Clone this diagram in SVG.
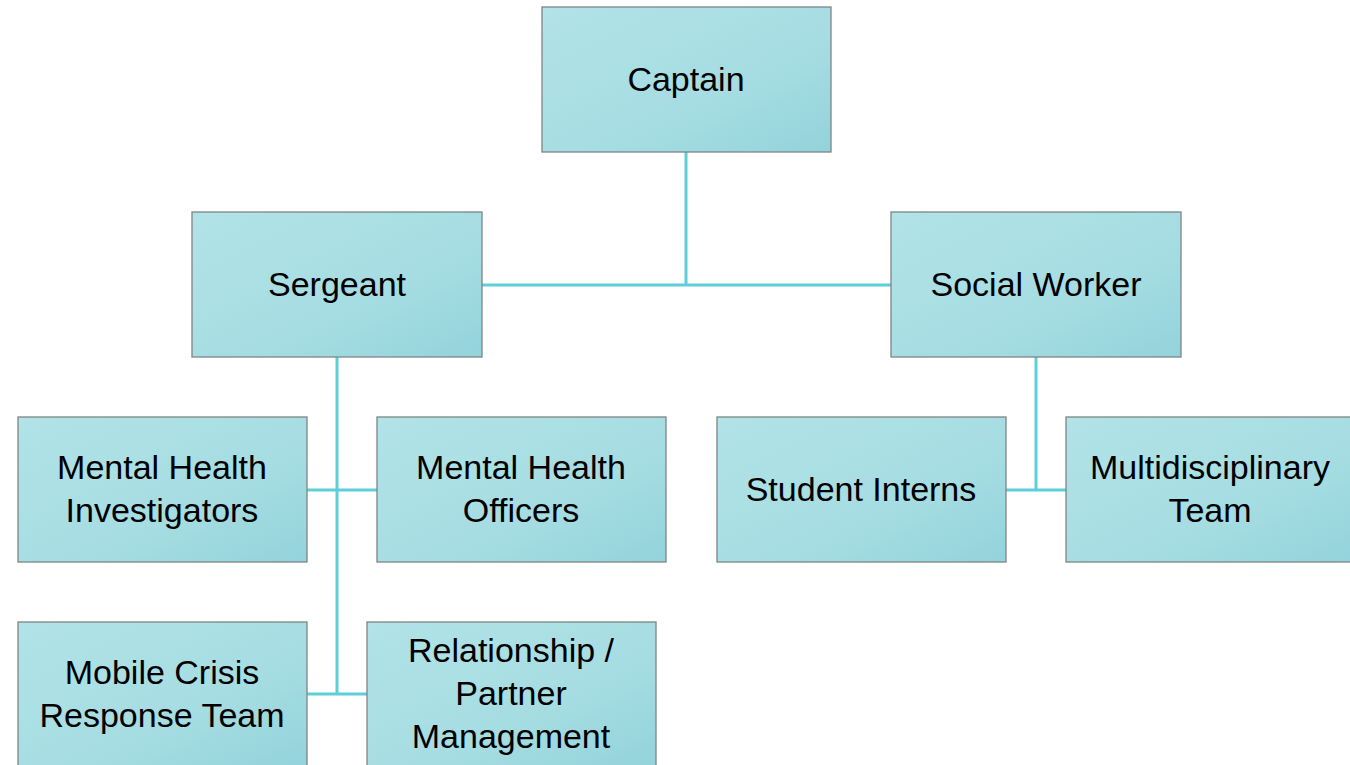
<svg xmlns="http://www.w3.org/2000/svg" width="1350" height="765" viewBox="0 0 1350 765">
<style>
.box{fill:url(#g);stroke:#7f8485;stroke-width:1.3}
.lbl{font-family:"Liberation Sans",Arial,sans-serif;font-size:34px;fill:#000;text-anchor:middle}
.con{stroke:#5ccfd9;stroke-width:3;fill:none}
</style>
<defs>
<linearGradient id="g" x1="0" y1="0" x2="1" y2="1">
<stop offset="0" stop-color="#b1e3e8"/>
<stop offset="0.6" stop-color="#a6dde2"/>
<stop offset="1" stop-color="#93d3db"/>
</linearGradient>
</defs>
<rect width="1350" height="765" fill="#fff"/>
<g id="connectors">
<path class="con" d="M686 152V285M482 285H891"/>
<path class="con" d="M337 357V694M307 490H377M307 694H367"/>
<path class="con" d="M1036 357V490M1006 490H1066"/>
</g>
<g id="captain"><rect class="box" x="542" y="7" width="289" height="145"/><text class="lbl" x="686" y="91">Captain</text></g>
<g id="sergeant"><rect class="box" x="192" y="212" width="290" height="145"/><text class="lbl" x="337" y="296">Sergeant</text></g>
<g id="social-worker"><rect class="box" x="891" y="212" width="290" height="145"/><text class="lbl" x="1036" y="296">Social Worker</text></g>
<g id="mh-investigators"><rect class="box" x="18" y="417" width="289" height="145"/><text class="lbl" x="162" y="479">Mental Health</text><text class="lbl" x="162" y="522">Investigators</text></g>
<g id="mh-officers"><rect class="box" x="377" y="417" width="289" height="145"/><text class="lbl" x="521" y="479">Mental Health</text><text class="lbl" x="521" y="522">Officers</text></g>
<g id="student-interns"><rect class="box" x="717" y="417" width="289" height="145"/><text class="lbl" x="861" y="501">Student Interns</text></g>
<g id="multidisciplinary"><rect class="box" x="1066" y="417" width="289" height="145"/><text class="lbl" x="1210" y="479">Multidisciplinary</text><text class="lbl" x="1210" y="522">Team</text></g>
<g id="mobile-crisis"><rect class="box" x="18" y="622" width="289" height="145"/><text class="lbl" x="162" y="684">Mobile Crisis</text><text class="lbl" x="162" y="727">Response Team</text></g>
<g id="relationship"><rect class="box" x="367" y="622" width="289" height="145"/><text class="lbl" x="511" y="662">Relationship /</text><text class="lbl" x="511" y="705">Partner</text><text class="lbl" x="511" y="748">Management</text></g>
</svg>
